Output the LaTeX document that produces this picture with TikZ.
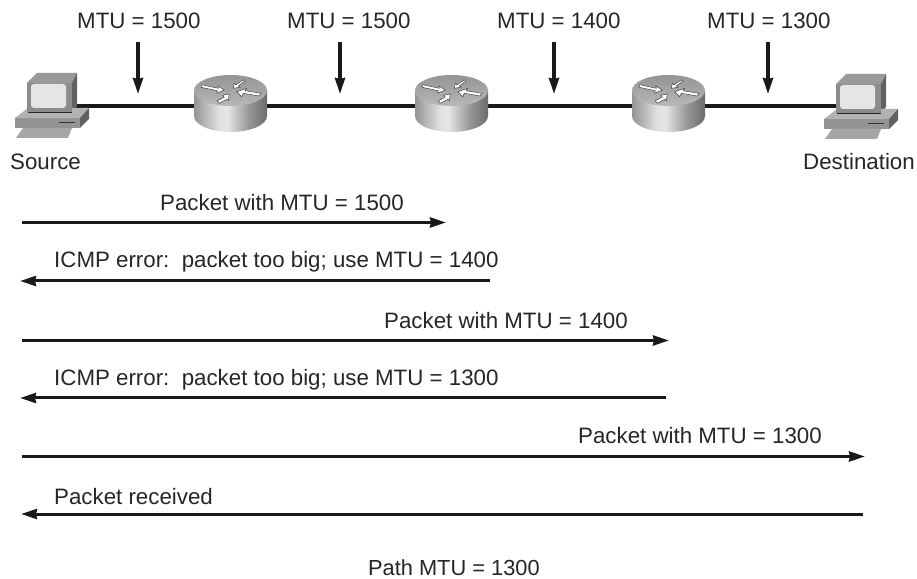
\documentclass[tikz,border=0pt]{standalone}
\usepackage{fontspec}
\setmainfont{Liberation Sans}
\usetikzlibrary{arrows.meta}
\pgfdeclarehorizontalshading{router_side}{100bp}{color(0bp)=(black!42); color(25bp)=(black!42); color(42bp)=(black!12); color(48bp)=(black!10); color(62bp)=(black!40); color(75bp)=(black!58); color(100bp)=(black!58)}
\pgfdeclareverticalshading{router_top}{100bp}{color(0bp)=(black!28); color(25bp)=(black!28); color(75bp)=(black!42); color(100bp)=(black!42)}
\tikzset{
  pics/computer/.style={code={
    \fill[black!40] (-25,23) -- (-15,33) -- (25,33) -- (20,23) -- cycle;
    \fill[black!62] (20,23) -- (25,33) -- (25,0) -- (20,-6) -- cycle;
    \fill[black!30] (-37,-12) -- (-24,-2) -- (37,-2) -- (28,-12) -- cycle;
    \fill[black!62] (28,-12) -- (37,-2) -- (37,-13) -- (28,-22) -- cycle;
    \fill[black!42] (-37,-12) rectangle (28,-22);
    \fill[black!35] (-36,-32) -- (-29,-22) -- (20,-22) -- (16,-32) -- cycle;
    \draw[black!80,line width=1pt] (7,-17) -- (23,-17);
    \fill[black!45] (-25,23) rectangle (20,-6);
    \fill[black!10,rounded corners=3pt] (-21,22) rectangle (14,-2);
    \draw[black!85,line width=1.5pt] (-24,-6.5) -- (20,-6.5);
  }},
  pics/router/.style={code={
    \shade[shading=router_side] (-36.5,15.5) -- (-36.5,-10) arc[start angle=180,end angle=360,x radius=36.5,y radius=16] -- (36.5,15.5) -- cycle;
    \shade[shading=router_top] (0,15.5) ellipse[x radius=36.5,y radius=15.5];
    \fill[white,draw=black!75,line width=.5pt] (-28.8,21.3) -- (-12.2,17.7) -- (-12.8,20) -- (-6.2,16) -- (-13.8,12.7) -- (-13.2,15.3) -- (-29.5,18.7) -- cycle;
    \fill[white,draw=black!75,line width=.5pt] (30.5,12.7) -- (14.5,15.3) -- (16.2,17.7) -- (6.2,14.3) -- (11.2,9.3) -- (12.8,12.7) -- (28.5,10) -- cycle;
    \fill[white,draw=black!75,line width=.5pt] (14.5,25) -- (7.8,20) -- (9.5,18.7) -- (2.8,17.7) -- (3.8,22.7) -- (5.5,21.3) -- (12.8,26) -- cycle;
    \fill[white,draw=black!75,line width=.5pt] (-13.2,5.3) -- (-6.2,8.7) -- (-7.8,10.7) -- (-1.2,12) -- (-2.2,5.3) -- (-3.8,6.7) -- (-11.2,2.7) -- cycle;
  }}
}
\begin{document}
\begin{tikzpicture}[x=1pt,y=1pt,font=\fontsize{22.3}{24}\selectfont,
    device_node/.style={inner sep=0pt,minimum size=1pt},
    link/.style={black!90,line width=3.3pt},
    mtu_arrow/.style={black!90,line width=3.2pt,-{Stealth[length=16pt,width=10pt,inset=1pt]}},
    flow_arrow/.style={black!90,line width=3pt,-{Stealth[length=16pt,width=10pt,inset=1pt]}},
    text_label/.style={anchor=base west,inner sep=0pt,text=black!85},
    path_label/.style={text_label,font=\fontsize{21.8}{24}\selectfont}]
  \useasboundingbox (0,0) rectangle (917,578);
  \fill[white] (0,0) rectangle (917,578);
% devices
\node[device_node] (source) at (52,472) {};
\node[device_node] (router_1) at (230.5,472) {};
\node[device_node] (router_2) at (451.5,472) {};
\node[device_node] (router_3) at (668.5,472) {};
\node[device_node] (destination) at (861,472) {};
\draw[link] (source) -- (router_1);
\draw[link] (router_1) -- (router_2);
\draw[link] (router_2) -- (router_3);
\draw[link] (router_3) -- (destination);
\pic at (source) {computer};
\pic at ([yshift=-1pt]destination) {computer};
\pic at (router_1) {router};
\pic at (router_2) {router};
\pic at (router_3) {router};
\node[text_label] (source_label) at (10,408) {Source};
\node[text_label] (destination_label) at (803,408) {Destination};
% mtu labels
\node[text_label] (mtu_1) at (77,549) {MTU = 1500};
\node[text_label] (mtu_2) at (287,549) {MTU = 1500};
\node[text_label] (mtu_3) at (497,549) {MTU = 1400};
\node[text_label] (mtu_4) at (707,549) {MTU = 1300};
\coordinate (mtu_top_1) at (138,536);
\coordinate (mtu_top_2) at (340,536);
\coordinate (mtu_top_3) at (554,536);
\coordinate (mtu_top_4) at (768,536);
\coordinate (mtu_tip_1) at (138,484);
\coordinate (mtu_tip_2) at (340,484);
\coordinate (mtu_tip_3) at (554,484);
\coordinate (mtu_tip_4) at (768,484);
\draw[mtu_arrow] (mtu_top_1) -- (mtu_tip_1);
\draw[mtu_arrow] (mtu_top_2) -- (mtu_tip_2);
\draw[mtu_arrow] (mtu_top_3) -- (mtu_tip_3);
\draw[mtu_arrow] (mtu_top_4) -- (mtu_tip_4);
% packet flow
\coordinate (a_1) at (22,355.5);
\coordinate (b_1) at (446,355.5);
\coordinate (a_2) at (490,297);
\coordinate (b_2) at (20,297);
\coordinate (a_3) at (22,237.5);
\coordinate (b_3) at (669,237.5);
\coordinate (a_4) at (666,180);
\coordinate (b_4) at (20,180);
\coordinate (a_5) at (22,121.5);
\coordinate (b_5) at (865,121.5);
\coordinate (a_6) at (863,64);
\coordinate (b_6) at (21,64);
\draw[flow_arrow] (a_1) -- (b_1);
\draw[flow_arrow] (a_2) -- (b_2);
\draw[flow_arrow] (a_3) -- (b_3);
\draw[flow_arrow] (a_4) -- (b_4);
\draw[flow_arrow] (a_5) -- (b_5);
\draw[flow_arrow] (a_6) -- (b_6);
\node[text_label] (flow_1) at (160,367) {Packet with MTU = 1500};
\node[text_label] (flow_2) at (54,310) {ICMP error:\ \ packet too big; use MTU = 1400};
\node[text_label] (flow_3) at (384,249) {Packet with MTU = 1400};
\node[text_label] (flow_4) at (54,192) {ICMP error:\ \ packet too big; use MTU = 1300};
\node[text_label] (flow_5) at (578,134) {Packet with MTU = 1300};
\node[text_label] (flow_6) at (54,74) {Packet received};
\node[path_label] (path_mtu) at (368,3) {Path MTU = 1300};
\end{tikzpicture}
\end{document}
